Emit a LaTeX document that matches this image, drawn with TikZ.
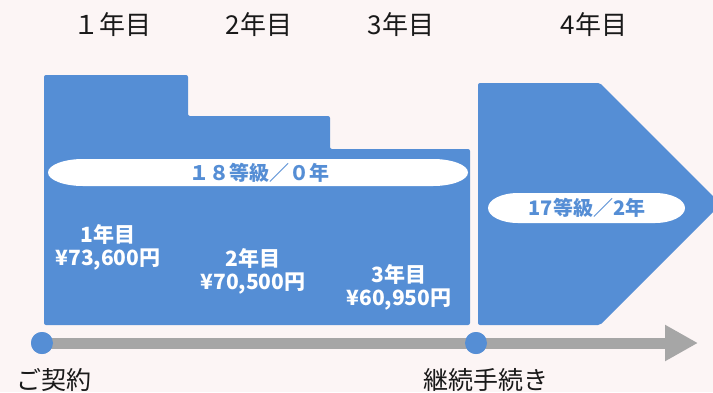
\documentclass[tikz,border=0pt]{standalone}
\usepackage{fontspec}
\setmainfont{Noto Sans CJK JP}
\usetikzlibrary{arrows.meta,shapes.geometric}
\definecolor{bg}{HTML}{FCF5F5}
\definecolor{blk}{HTML}{558ED5}
\definecolor{axisgray}{HTML}{A6A6A6}
\tikzset{
  yearlabel/.style={font=\fontsize{26}{30}\selectfont, text=black!90, inner sep=0pt},
  steplabel/.style={font=\fontsize{25}{30}\selectfont, text=black!90, inner sep=0pt},
  feelabel/.style={font=\bfseries\fontsize{21}{23}\selectfont, text=white, align=center, inner sep=0pt},
  pilltext/.style={inner sep=0pt, text=blk, font=\bfseries\fontsize{20}{22}\selectfont},
  pillshape/.style={fill=white},
  dot/.style={circle, fill=blk, minimum size=22pt, inner sep=0pt},
}
\begin{document}
\begin{tikzpicture}[x=1pt,y=-1pt]
\fill[bg] (0,0) rectangle (713,392);
\useasboundingbox (0,0) rectangle (713,392);
% stepped blocks
\fill[blk, rounded corners=2pt] (44,325) -- (44,75) -- (188,75) -- (188,116) -- (330,116) -- (330,149) -- (470,149) -- (470,325) -- cycle;
% chevron block
\begin{scope}
\clip (0,0) rectangle (713,392);
\fill[blk, rounded corners=2pt] (478,325) -- (478,83) -- (600,83) -- (721,204) -- (600,325) -- cycle;
\end{scope}
% pills
\fill[pillshape] (433,159) -- (83,159) arc[start angle=270, end angle=90, x radius=35, y radius=13.5] -- (433,186) arc[start angle=90, end angle=-90, x radius=35, y radius=13.5] -- cycle;
\fill[pillshape] (655,193) -- (518,193) arc[start angle=270, end angle=90, x radius=30, y radius=15] -- (655,223) arc[start angle=90, end angle=-90, x radius=30, y radius=15] -- cycle;
\node[pilltext] (p1) at (259,172.5) {１８等級／０年};
\node[pilltext] (p2) at (587,208) {17等級／2年};
% fee labels
\node[feelabel] (f1) at (108,247) {1年目\\¥73,600円};
\node[feelabel] (f2) at (253,271) {2年目\\¥70,500円};
\node[feelabel] (f3) at (399,287) {3年目\\¥60,950円};
% year labels
\node[yearlabel] (y1) at (112,25) {１年目};
\node[yearlabel] (y2) at (259,25) {2年目};
\node[yearlabel] (y3) at (401,25) {3年目};
\node[yearlabel] (y4) at (594,25) {4年目};
% axis
\coordinate (tip) at (698,343);
\node[dot] (c1) at (42,343) {};
\node[dot] (c2) at (476,343) {};
\draw[axisgray, line width=11pt, -{Triangle[length=33pt,width=34pt]}] (c1.center) -- (tip);
\node[dot] at (c1.center) {};
\node[dot] at (c2.center) {};
\node[steplabel] (s1) at (54,380) {ご契約};
\node[steplabel] (s2) at (486,380) {継続手続き};
\end{tikzpicture}
\end{document}
